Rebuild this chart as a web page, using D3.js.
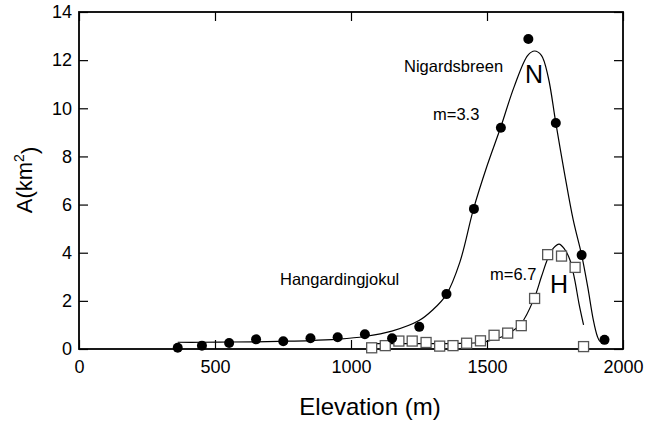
<!DOCTYPE html>
<html>
<head>
<meta charset="utf-8">
<script src="https://cdn.jsdelivr.net/npm/d3@7"></script>
<style>
  html, body { margin: 0; padding: 0; background: #fff; }
  svg text { font-family: "Liberation Sans", Arial, Helvetica, sans-serif; fill: #000; }
</style>
</head>
<body>
<svg id="chart" width="646" height="426"></svg>
<script>
// Nigardsbreen: measured glacier area per elevation band
const elevN = [363, 452, 552, 651, 751, 851, 951, 1051, 1151, 1251, 1351, 1452, 1551, 1652, 1753, 1848, 1932];
const areaN = [0.05, 0.14, 0.25, 0.40, 0.32, 0.45, 0.49, 0.61, 0.45, 0.92, 2.28, 5.82, 9.19, 12.88, 9.39, 3.90, 0.38];

// Hangardingjokul: measured glacier area per elevation band
const elevH = [1076, 1126, 1176, 1225, 1276, 1326, 1375, 1425, 1476, 1526, 1576, 1626, 1675, 1723, 1774, 1824, 1855];
const areaH = [0.05, 0.14, 0.33, 0.33, 0.27, 0.12, 0.14, 0.24, 0.34, 0.57, 0.66, 0.97, 2.10, 3.92, 3.86, 3.39, 0.10];

// Fitted hypsometric curves (m = 3.3 and m = 6.7)
const fitNx = [363, 450, 550, 650, 750, 850, 950, 1050, 1150, 1250, 1300, 1350, 1400, 1450, 1500, 1550, 1600, 1650, 1675, 1700, 1725, 1753, 1785, 1817, 1848, 1870, 1891, 1905, 1915, 1925, 1932];
const fitNy = [0.28, 0.28, 0.29, 0.30, 0.32, 0.35, 0.41, 0.52, 0.74, 1.18, 1.62, 2.25, 3.6, 5.8, 7.6, 9.2, 10.9, 12.2, 12.38, 12.2, 11.3, 9.39, 7.3, 5.36, 3.9, 2.6, 1.2, 0.55, 0.32, 0.32, 0.38];
const fitHx = [1075, 1200, 1300, 1400, 1475, 1510, 1570, 1625, 1675, 1700, 1725, 1745, 1765, 1785, 1805, 1822, 1838, 1855];
const fitHy = [0.22, 0.22, 0.22, 0.23, 0.27, 0.35, 0.58, 1.05, 2.15, 3.0, 3.8, 4.2, 4.36, 4.15, 3.7, 2.9, 1.9, 1.0];

// Axis ticks
const xTicks = [0, 500, 1000, 1500, 2000];
const yTicks = [0, 2, 4, 6, 8, 10, 12, 14];

const margin = { top: 12, right: 23, bottom: 77, left: 79 };
const W = 646, H = 426;
const iw = W - margin.left - margin.right;
const ih = H - margin.top - margin.bottom;

const svg = d3.select("#chart");
const g = svg.append("g").attr("transform", `translate(${margin.left},${margin.top})`);

const x = d3.scaleLinear().domain([0, 2000]).range([0, iw]);
const y = d3.scaleLinear().domain([0, 14]).range([ih, 0]);

const tickLen = 9;
const fontSize = "18px";
const plain = d3.format("d");

// Bottom axis with labels, ticks pointing inward
const xb = g.append("g").attr("transform", `translate(0,${ih})`)
  .call(d3.axisBottom(x).tickValues(xTicks).tickSize(-tickLen).tickPadding(11).tickFormat(plain));
// Top axis, ticks only
const xt = g.append("g")
  .call(d3.axisTop(x).tickValues(xTicks).tickSize(-tickLen).tickFormat(""));
// Left axis with labels
const yl = g.append("g")
  .call(d3.axisLeft(y).tickValues(yTicks).tickSize(-tickLen).tickPadding(7).tickFormat(plain));
// Right axis, ticks only
const yr = g.append("g").attr("transform", `translate(${iw},0)`)
  .call(d3.axisRight(y).tickValues(yTicks).tickSize(-tickLen).tickFormat(""));

[xb, xt, yl, yr].forEach(a => {
  a.select(".domain").remove();
  a.selectAll(".tick line").attr("stroke", "#000").attr("stroke-width", 1.2);
  a.selectAll(".tick text").style("font-size", fontSize).attr("fill", "#000");
});

// Plot frame
g.append("rect")
  .attr("x", 0).attr("y", 0).attr("width", iw).attr("height", ih)
  .attr("fill", "none").attr("stroke", "#000").attr("stroke-width", 1.8);

// Fitted curves
const line = d3.line()
  .x(d => x(d[0])).y(d => y(d[1]))
  .curve(d3.curveCatmullRom.alpha(0.5));

g.append("path")
  .datum(d3.zip(fitNx, fitNy))
  .attr("d", line)
  .attr("fill", "none").attr("stroke", "#000").attr("stroke-width", 1.2);

g.append("path")
  .datum(d3.zip(fitHx, fitHy))
  .attr("d", line)
  .attr("fill", "none").attr("stroke", "#000").attr("stroke-width", 1.2);

// Hangardingjokul observations: open squares
const sq = 10;
g.append("g").selectAll("rect")
  .data(d3.zip(elevH, areaH))
  .join("rect")
  .attr("x", d => x(d[0]) - sq / 2)
  .attr("y", d => y(d[1]) - sq / 2)
  .attr("width", sq).attr("height", sq)
  .attr("fill", "#fff").attr("stroke", "#555").attr("stroke-width", 1.3);

// Nigardsbreen observations: filled circles
g.append("g").selectAll("circle")
  .data(d3.zip(elevN, areaN))
  .join("circle")
  .attr("cx", d => x(d[0]))
  .attr("cy", d => y(d[1]))
  .attr("r", 5)
  .attr("fill", "#000");

// Annotations
const notes = [
  { t: "Nigardsbreen", x: 404, y: 72, s: "16.5px" },
  { t: "N", x: 525, y: 83, s: "25px" },
  { t: "m=3.3", x: 433, y: 120, s: "16.5px" },
  { t: "Hangardingjokul", x: 280, y: 285, s: "16.5px" },
  { t: "m=6.7", x: 490, y: 280, s: "16.5px" },
  { t: "H", x: 550, y: 293, s: "25px" }
];
svg.append("g").selectAll("text")
  .data(notes)
  .join("text")
  .attr("x", d => d.x).attr("y", d => d.y)
  .style("font-size", d => d.s)
  .text(d => d.t);

// Axis titles
svg.append("text")
  .attr("x", 370).attr("y", 415)
  .attr("text-anchor", "middle")
  .style("font-size", "24px")
  .text("Elevation (m)");

const yTitle = svg.append("text")
  .attr("transform", "translate(32,180) rotate(-90)")
  .attr("text-anchor", "middle")
  .style("font-size", "22px");
yTitle.append("tspan").text("A(km");
yTitle.append("tspan").attr("dy", "-0.6em").style("font-size", "14px").text("2");
yTitle.append("tspan").attr("dy", "0.6em").text(")");
</script>
</body>
</html>
